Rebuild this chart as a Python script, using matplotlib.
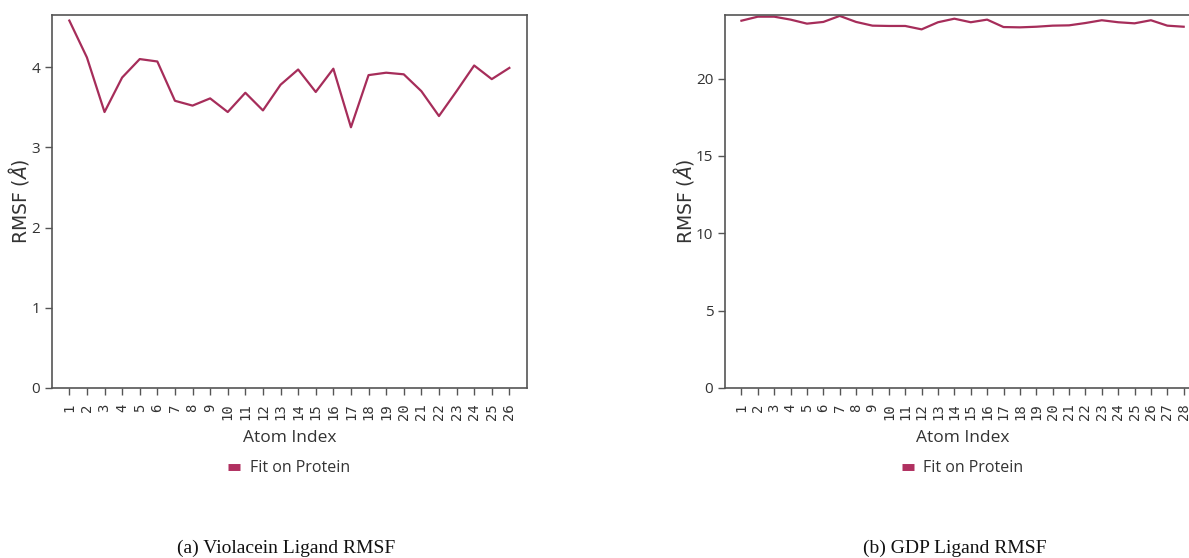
import matplotlib
matplotlib.use('Agg')
import matplotlib.pyplot as plt
from matplotlib.lines import Line2D

# data
violacein_atoms = list(range(1, 27))
violacein_rmsf = [4.58, 4.12, 3.44, 3.87, 4.10, 4.07, 3.58, 3.52, 3.61, 3.44,
                  3.68, 3.46, 3.78, 3.97, 3.69, 3.98, 3.25, 3.90, 3.93, 3.91,
                  3.70, 3.39, 3.70, 4.02, 3.85, 3.99]

gdp_atoms = list(range(1, 29))
gdp_rmsf = [23.74, 24.00, 24.00, 23.81, 23.55, 23.66, 24.05, 23.66, 23.42, 23.40,
            23.40, 23.18, 23.64, 23.87, 23.64, 23.81, 23.33, 23.31, 23.35, 23.42,
            23.44, 23.59, 23.77, 23.64, 23.57, 23.77, 23.42, 23.35]

captions = ['(a) Violacein Ligand RMSF', '(b) GDP Ligand RMSF']
legend_label = 'Fit on Protein'

line_color = '#a62d5a'
spine_color = '#555555'
text_color = '#333333'

fig = plt.figure(figsize=(11.89, 5.58), dpi=100)

# axes boxes in figure coords (right panel runs past the figure edge like the reference)
boxes = [(0.0435, 0.3047, 0.3997, 0.668),
         (0.6098, 0.3047, 0.3995, 0.668)]
panels = [(violacein_atoms, violacein_rmsf), (gdp_atoms, gdp_rmsf)]
caption_x = [0.241, 0.803]

for box, (atoms, rmsf), cap, cx in zip(boxes, panels, captions, caption_x):
  ax = fig.add_axes(box)
  ax.plot(atoms, rmsf, color=line_color, lw=1.6)
  ax.set_xlim(0, len(atoms) + 1)
  lo = min(rmsf); hi = max(rmsf)
  ax.set_ylim(0, hi + 0.05 * (hi - lo))
  ax.set_xticks(atoms)
  ax.set_xticklabels([str(a) for a in atoms], rotation=90,
                     family='DejaVu Sans Mono', fontsize=10, color=text_color)
  for lab in ax.get_yticklabels():
    lab.set_family('Open Sans')
    lab.set_fontsize(11)
    lab.set_color(text_color)
  ax.tick_params(length=5, color=spine_color, width=1)
  ax.tick_params(axis='x', pad=6)
  for sp in ax.spines.values():
    sp.set_color(spine_color)
    sp.set_linewidth(1.2)
  ax.set_xlabel('Atom Index', family='Open Sans', fontsize=12.5, color=text_color,
                labelpad=7)
  ax.set_ylabel(r'RMSF ($\AA$)', fontsize=13.5, color=text_color, labelpad=0)
  handle = Line2D([], [], color='#b03060', lw=5, solid_capstyle='butt')
  leg = ax.legend([handle], [legend_label], loc='center',
                  bbox_to_anchor=(0.5, -0.215), frameon=False, handlelength=0.75,
                  handletextpad=0.6, prop={'family': 'Open Sans', 'size': 11.5})
  for t in leg.get_texts():
    t.set_color(text_color)
  fig.text(cx, 0.009, cap, ha='center', va='baseline', family='Liberation Serif',
           fontsize=14, color='#111111')

fig.savefig('out.png', dpi=100)
